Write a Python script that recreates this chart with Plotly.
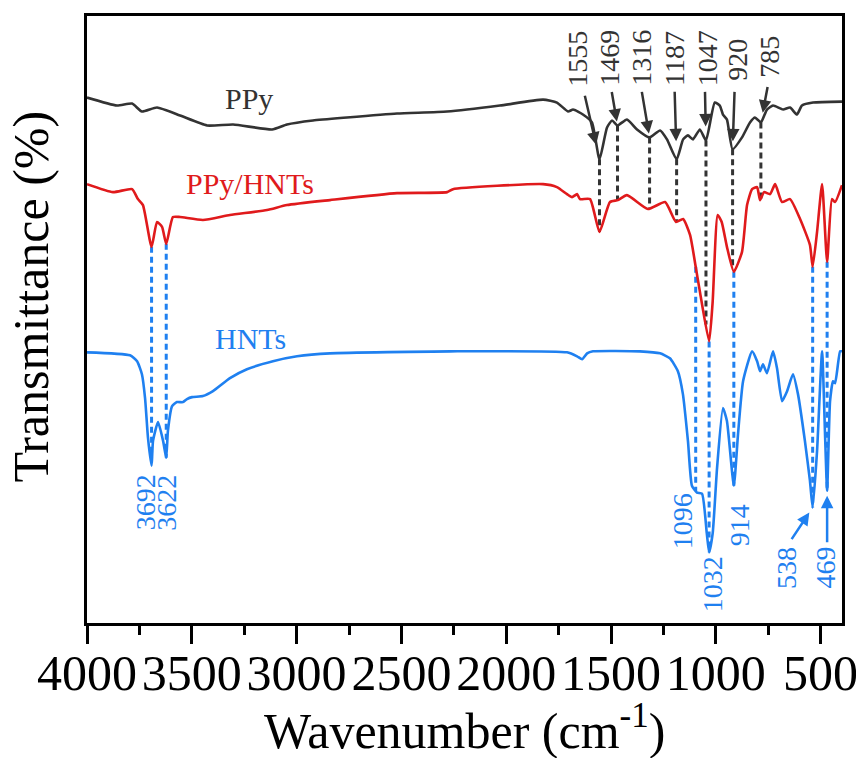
import numpy as np
import plotly.graph_objects as go

# ---------------- data (wavenumber, offset transmittance) ----------------
ppy_wn = [4000, 3857, 3785, 3738, 3666, 3556, 3427, 3303, 3117, 3046, 2922, 2760, 2521, 2282, 2030,
          1824, 1758, 1705, 1681, 1634, 1591, 1555, 1519, 1495, 1469, 1424, 1376, 1316, 1266, 1233,
          1187, 1156, 1133, 1109, 1076, 1047, 1005, 981, 966, 947, 920, 875, 837, 813, 785, 756,
          727, 679, 646, 613, 589, 536, 398]
ppy_t = [528, 520, 522, 514, 518, 510, 500, 501, 496, 501, 505, 508, 512, 514, 520,
         526, 523, 514, 516, 511, 503, 466, 498, 505, 500, 506, 496, 488, 495, 486,
         466, 486, 490, 486, 496, 485, 523, 520, 511, 506, 476, 488, 503, 508, 503, 516,
         520, 516, 518, 511, 520, 523, 524]

hybrid_wn = [4000, 3876, 3785, 3757, 3733, 3692, 3666, 3642, 3622, 3590, 3556, 3447, 3318, 3141,
             3046, 2841, 2521, 2282, 2254, 1824, 1758, 1710, 1686, 1662, 1648, 1600, 1555, 1505,
             1467, 1424, 1324, 1242, 1190, 1156, 1123, 1096, 1076, 1032, 1015, 991, 972, 947,
             914, 875, 851, 827, 803, 789, 770, 741, 717, 684, 646, 598, 551, 538, 517, 493,
             469, 446, 431, 398]
hybrid_t = [441, 433, 436, 426, 420, 378, 403, 398, 381, 408, 408, 405, 410, 415,
            420, 425, 432, 433, 436, 441, 438, 431, 428, 431, 426, 426, 393, 423,
            425, 430, 416, 423, 403, 406, 390, 358, 333, 283, 323, 410, 403, 378,
            353, 373, 420, 436, 438, 425, 433, 431, 441, 423, 426, 406, 380, 358, 393, 441,
            363, 426, 423, 440]

hnts_wn = [4000, 3795, 3761, 3738, 3723, 3709, 3692, 3685, 3661, 3637, 3622, 3614, 3594, 3571,
           3542, 3523, 3499, 3447, 3399, 3318, 3237, 3113, 2998, 2841, 2268, 1710, 1662, 1638,
           1614, 1586, 1362, 1266, 1219, 1181, 1157, 1133, 1114, 1090, 1066, 1043, 1032, 1015,
           994, 966, 947, 914, 894, 870, 827, 803, 789, 775, 756, 727, 708, 684, 660, 632, 608,
           575, 551, 538, 517, 493, 479, 469, 455, 441, 431, 407, 398]
hnts_t = [272, 269, 263, 250, 226, 186, 158, 183, 202, 183, 166, 193, 218, 222,
          222, 225, 227, 228, 233, 246, 255, 263, 268, 271, 273, 272, 268, 265,
          271, 273, 273, 271, 266, 253, 230, 183, 138, 131, 130, 90, 71, 90,
          156, 216, 203, 138, 190, 243, 273, 263, 253, 260, 251, 273, 256, 223, 233, 250, 230,
          183, 143, 116, 173, 273, 190, 133, 223, 243, 241, 273, 273]

top_peaks = [1555, 1469, 1316, 1187, 1047, 920, 785]
bottom_peaks = [3692, 3622, 1096, 1032, 914, 538, 469]
arrow_bottom_peaks = [538, 469]
xtick_vals = [4000, 3500, 3000, 2500, 2000, 1500, 1000, 500]
xminor_vals = [3750, 3250, 2750, 2250, 1750, 1250, 750]
series_names = ["PPy", "PPy/HNTs", "HNTs"]

# ---------------- styles ----------------
FONT = "Liberation Serif"
BLACK = "#333333"
RED = "#e01a1c"
BLUE = "#1f80f0"
LW = 2.6


def curve_at(wn, t, w):
    wn = np.asarray(wn, float)
    t = np.asarray(t, float)
    o = np.argsort(wn)
    return float(np.interp(w, wn[o], t[o]))


fig = go.Figure()

# dashed guide lines
for w in top_peaks:
    fig.add_trace(go.Scatter(x=[w, w], y=[curve_at(ppy_wn, ppy_t, w), curve_at(hybrid_wn, hybrid_t, w)],
                             mode="lines", line=dict(color=BLACK, width=3, dash="6px,4px"),
                             hoverinfo="skip", showlegend=False))
for w in bottom_peaks:
    fig.add_trace(go.Scatter(x=[w, w], y=[curve_at(hybrid_wn, hybrid_t, w), curve_at(hnts_wn, hnts_t, w)],
                             mode="lines", line=dict(color=BLUE, width=3, dash="6px,4px"),
                             hoverinfo="skip", showlegend=False))

# spectra
for wn, t, col, name in [(ppy_wn, ppy_t, BLACK, series_names[0]),
                         (hybrid_wn, hybrid_t, RED, series_names[1]),
                         (hnts_wn, hnts_t, BLUE, series_names[2])]:
    fig.add_trace(go.Scatter(x=wn, y=t, mode="lines", name=name,
                             line=dict(color=col, width=LW, shape="spline", smoothing=0.5),
                             showlegend=False))

ann = []
# top labels (rotated) and arrows
top_shift = [-22, -8, -8, -2, 1, 5, 9]
top_label_y = [567.5, 567.5, 567.5, 567.5, 567.5, 565.5, 569]
top_ax = [-15, -6, -8, -2, -1, 2, 7]
top_ay = [-65, -35, -47, -69, -50, -59, -37]
top_standoff = [15, 4, 4, 18, 14, 8, 10]
for i, w in enumerate(top_peaks):
    ann.append(dict(x=w, y=top_label_y[i], xref="x", yref="y", text=str(w), showarrow=False,
                    textangle=-90, xshift=top_shift[i], xanchor="center", yanchor="middle",
                    font=dict(family=FONT, size=28, color=BLACK)))
    ann.append(dict(x=w, y=curve_at(ppy_wn, ppy_t, w), xref="x", yref="y", text="", showarrow=True,
                    ax=top_ax[i], ay=top_ay[i], arrowhead=2, arrowsize=1,
                    arrowwidth=2.5, arrowcolor=BLACK, standoff=top_standoff[i]))

# bottom labels
bot_shift = [-6, 0, -13, 3, 6, -26, -2]
bot_label_y = [121, 121, 102, 39, 98, 55, 56]
for i, w in enumerate(bottom_peaks):
    ann.append(dict(x=w, y=bot_label_y[i], xref="x", yref="y", text=str(w), showarrow=False,
                    textangle=-90, xshift=bot_shift[i], xanchor="center", yanchor="middle",
                    font=dict(family=FONT, size=28, color=BLUE)))
bot_ax = [-22, 0]
bot_ay = [33, 53]
bot_standoff = [6, 5]
for i, w in enumerate(arrow_bottom_peaks):
    ann.append(dict(x=w, y=curve_at(hnts_wn, hnts_t, w), xref="x", yref="y", text="", showarrow=True,
                    ax=bot_ax[i], ay=bot_ay[i], arrowhead=2, arrowsize=1, arrowwidth=2.5,
                    arrowcolor=BLUE, standoff=bot_standoff[i]))

# series labels
for name, wx, yy, col in [(series_names[0], 3227, 527, BLACK),
                          (series_names[1], 3222, 442, RED),
                          (series_names[2], 3222, 286, BLUE)]:
    ann.append(dict(x=wx, y=yy, xref="x", yref="y", text=name, showarrow=False,
                    xanchor="center", yanchor="middle", font=dict(family=FONT, size=30, color=col)))

# axis titles
ann.append(dict(x=0.5, y=-0.172, xref="paper", yref="paper", text="Wavenumber (cm<sup>-1</sup>)",
                showarrow=False, xanchor="center", yanchor="middle",
                font=dict(family=FONT, size=50, color="black")))
ann.append(dict(x=-0.074, y=0.538, xref="paper", yref="paper", text="Transmittance (%)",
                showarrow=False, textangle=-90, xanchor="center", yanchor="middle",
                font=dict(family=FONT, size=50, color="black")))

# the page places the figure 8 px in from the top-left corner
fig.update_layout(
    width=856, height=750,
    margin=dict(l=79, r=22, t=5, b=135),
    paper_bgcolor="white", plot_bgcolor="white",
    showlegend=False,
    annotations=ann,
    xaxis=dict(range=[4000, 398], tickmode="array", tickvals=xtick_vals,
               ticktext=[str(v) for v in xtick_vals], tickangle=0,
               ticks="outside", ticklen=18, tickwidth=2.5, tickcolor="black",
               ticklabelstandoff=-14,
               showline=True, linewidth=2.5, linecolor="black", mirror=True,
               showgrid=False, zeroline=False,
               tickfont=dict(family=FONT, size=50, color="black"),
               minor=dict(tickmode="array", tickvals=xminor_vals, ticks="outside",
                          ticklen=9, tickwidth=2.5, tickcolor="black", showgrid=False)),
    yaxis=dict(range=[0, 610], showticklabels=False, ticks="",
               showline=True, linewidth=2.5, linecolor="black", mirror=True,
               showgrid=False, zeroline=False),
)

fig.write_html("out.html")
